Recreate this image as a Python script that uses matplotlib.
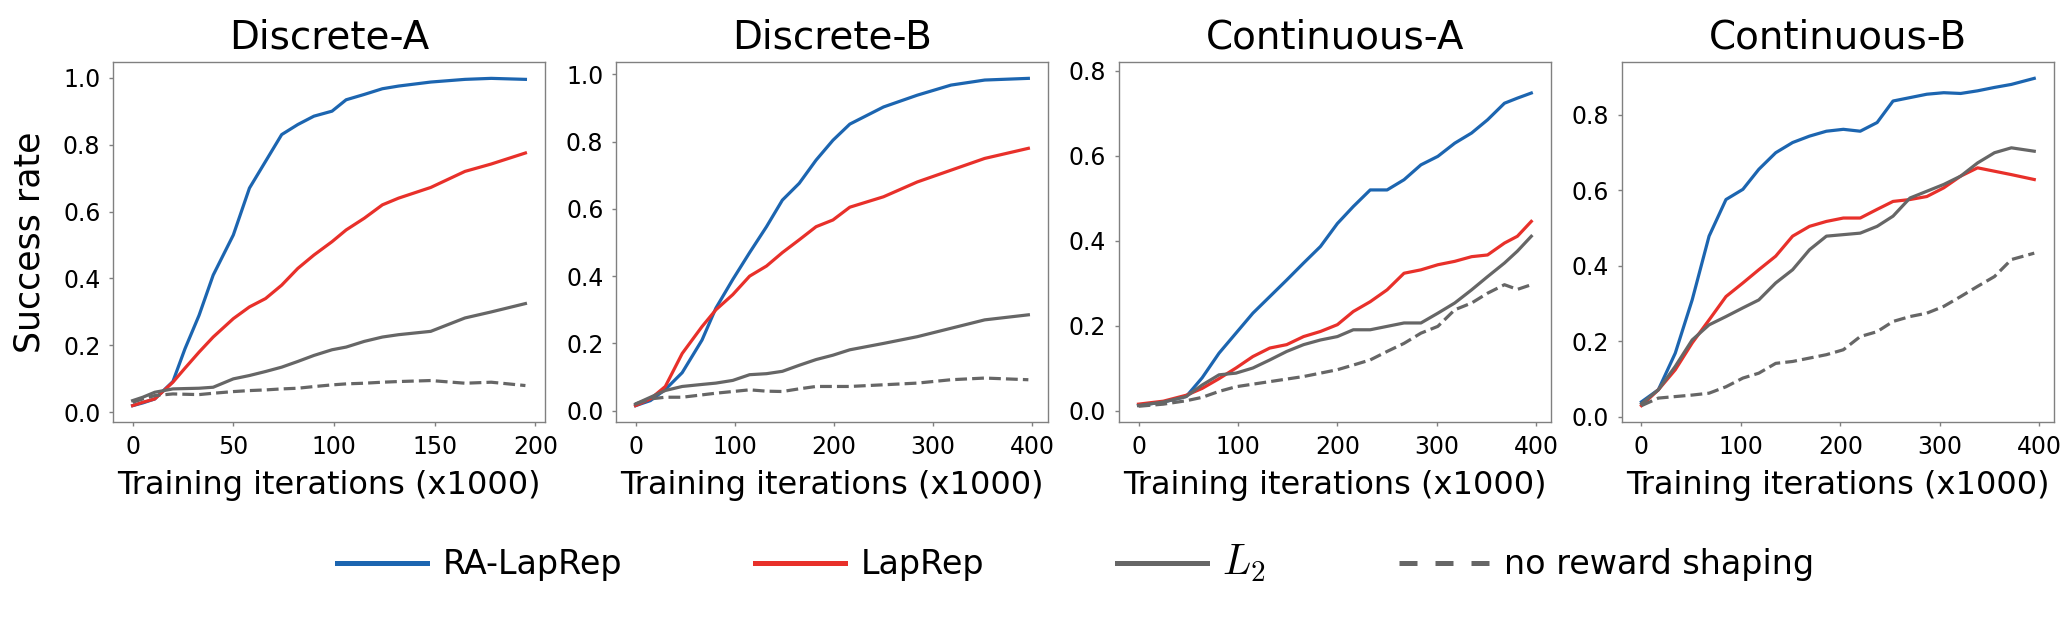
import matplotlib
matplotlib.use("Agg")
import matplotlib.pyplot as plt
from matplotlib.lines import Line2D

plt.rcParams['font.family'] = ['DejaVu Sans']
plt.rcParams['mathtext.fontset'] = 'cm'

# data (x in thousands of iterations)
titles = ['Discrete-A', 'Discrete-B', 'Continuous-A', 'Continuous-B']
labels = ['RA-LapRep', 'LapRep', '$L_2$', 'no reward shaping']

x_da = [0, 5, 11, 20, 26, 33, 40, 50, 58, 66, 74, 82, 90, 99, 106, 115, 124, 132, 148, 165, 178, 195]
ra_da = [0.02, 0.028, 0.04, 0.092, 0.19, 0.29, 0.41, 0.53, 0.67, 0.75, 0.83, 0.86, 0.885, 0.90, 0.934,
         0.95, 0.967, 0.975, 0.987, 0.995, 0.998, 0.995]
lap_da = [0.02, 0.03, 0.04, 0.09, 0.132, 0.18, 0.225, 0.28, 0.315, 0.34, 0.38, 0.43, 0.47, 0.51, 0.545,
          0.58, 0.62, 0.64, 0.672, 0.72, 0.742, 0.775]
l2_da = [0.035, 0.045, 0.06, 0.07, 0.071, 0.072, 0.075, 0.10, 0.11, 0.122, 0.135, 0.152, 0.17, 0.187,
         0.195, 0.212, 0.225, 0.232, 0.242, 0.282, 0.30, 0.325]
none_da = [0.03, 0.04, 0.05, 0.055, 0.054, 0.053, 0.057, 0.062, 0.065, 0.067, 0.07, 0.072, 0.077, 0.082,
           0.085, 0.087, 0.09, 0.092, 0.095, 0.087, 0.09, 0.08]

x_db = [0, 15, 30, 47, 67, 81, 98, 115, 132, 148, 165, 182, 199, 216, 250, 284, 318, 352, 396]
ra_db = [0.015, 0.03, 0.063, 0.113, 0.21, 0.305, 0.39, 0.47, 0.547, 0.626, 0.676, 0.745, 0.804, 0.852,
         0.903, 0.938, 0.968, 0.983, 0.988]
lap_db = [0.015, 0.035, 0.072, 0.17, 0.25, 0.30, 0.345, 0.40, 0.43, 0.47, 0.508, 0.547, 0.567, 0.605,
          0.636, 0.68, 0.715, 0.75, 0.78]
l2_db = [0.02, 0.04, 0.06, 0.072, 0.078, 0.082, 0.09, 0.107, 0.11, 0.117, 0.135, 0.152, 0.165, 0.181,
         0.20, 0.22, 0.245, 0.27, 0.285]
none_db = [0.02, 0.035, 0.04, 0.04, 0.047, 0.052, 0.057, 0.062, 0.058, 0.057, 0.065, 0.072, 0.072, 0.072,
           0.077, 0.082, 0.092, 0.097, 0.092]

x_ca = [0, 25, 48, 64, 81, 98, 115, 132, 149, 166, 183, 200, 216, 233, 250, 267, 284, 301, 318, 335,
        351, 368, 381, 395]
ra_ca = [0.012, 0.02, 0.033, 0.077, 0.135, 0.182, 0.229, 0.268, 0.307, 0.347, 0.386, 0.44, 0.48, 0.519,
         0.519, 0.543, 0.578, 0.598, 0.629, 0.653, 0.684, 0.723, 0.735, 0.747]
lap_ca = [0.015, 0.022, 0.036, 0.052, 0.075, 0.10, 0.127, 0.147, 0.155, 0.174, 0.186, 0.202, 0.233, 0.256,
          0.284, 0.323, 0.331, 0.343, 0.351, 0.362, 0.366, 0.394, 0.41, 0.445]
l2_ca = [0.012, 0.02, 0.033, 0.06, 0.084, 0.088, 0.10, 0.119, 0.139, 0.155, 0.166, 0.174, 0.19, 0.19,
         0.198, 0.206, 0.206, 0.229, 0.253, 0.284, 0.315, 0.347, 0.375, 0.41]
none_ca = [0.01, 0.015, 0.023, 0.031, 0.045, 0.056, 0.062, 0.068, 0.074, 0.08, 0.088, 0.096, 0.107, 0.119,
           0.139, 0.158, 0.182, 0.198, 0.237, 0.253, 0.276, 0.296, 0.285, 0.296]

x_cb = [0, 17, 34, 51, 68, 85, 102, 118, 135, 152, 169, 186, 203, 220, 237, 253, 270, 287, 304, 321,
        338, 355, 372, 395]
ra_cb = [0.04, 0.072, 0.169, 0.31, 0.479, 0.576, 0.603, 0.656, 0.70, 0.727, 0.744, 0.757, 0.762, 0.757,
         0.78, 0.837, 0.846, 0.855, 0.859, 0.857, 0.864, 0.873, 0.881, 0.897]
lap_cb = [0.03, 0.072, 0.125, 0.196, 0.257, 0.319, 0.355, 0.39, 0.426, 0.479, 0.505, 0.518, 0.527, 0.527,
          0.55, 0.571, 0.576, 0.584, 0.607, 0.638, 0.66, 0.651, 0.642, 0.629]
l2_cb = [0.035, 0.072, 0.134, 0.204, 0.244, 0.266, 0.289, 0.31, 0.355, 0.39, 0.443, 0.479, 0.483, 0.487,
         0.505, 0.532, 0.58, 0.598, 0.616, 0.638, 0.673, 0.70, 0.713, 0.704]
none_cb = [0.03, 0.05, 0.054, 0.058, 0.063, 0.08, 0.103, 0.116, 0.142, 0.147, 0.156, 0.165, 0.178, 0.213,
           0.226, 0.253, 0.266, 0.275, 0.293, 0.319, 0.346, 0.372, 0.417, 0.434]

panels = [
    (x_da, [ra_da, lap_da, l2_da, none_da]),
    (x_db, [ra_db, lap_db, l2_db, none_db]),
    (x_ca, [ra_ca, lap_ca, l2_ca, none_ca]),
    (x_cb, [ra_cb, lap_cb, l2_cb, none_cb]),
]

colors = ['#1c65b0', '#e8302a', '#666666', '#666666']
styles = ['-', '-', '-', '--']

fig, axes = plt.subplots(1, 4, figsize=(20.69, 6.25), dpi=100)
fig.subplots_adjust(left=0.0546, right=0.9927, top=0.9008, bottom=0.3248, wspace=0.164)

for i, ax in enumerate(axes):
    xs, series = panels[i]
    for ys, c, ls in zip(series, colors, styles):
        ax.plot(xs, ys, color=c, linestyle=ls, linewidth=2.3)
    ax.set_title(titles[i], fontsize=28, pad=10)
    ax.set_xlabel('Training iterations (x1000)', fontsize=23, labelpad=8)
    ax.tick_params(labelsize=17, length=3, width=1, color='#808080', pad=6)
    for sp in ax.spines.values():
        sp.set_color('#808080')
        sp.set_linewidth(1)
    if i == 0:
        ax.set_xticks([0, 50, 100, 150, 200])
        ax.set_ylabel('Success rate', fontsize=25, labelpad=12)
    else:
        ax.set_xticks([0, 100, 200, 300, 400])
    if i < 2:
        ax.set_yticks([0.0, 0.2, 0.4, 0.6, 0.8, 1.0])
    else:
        ax.set_yticks([0.0, 0.2, 0.4, 0.6, 0.8])

axes[2].set_ylim(-0.027, 0.82)

handles = [Line2D([], [], color=colors[0], lw=3.6),
           Line2D([], [], color=colors[1], lw=3.6),
           Line2D([], [], color=colors[2], lw=3.6),
           Line2D([], [], color=colors[3], lw=3.6, linestyle=(0, (3.6, 3.6)))]
leg = fig.legend(handles, labels, loc='center', bbox_to_anchor=(0.52, 0.1), ncol=4, frameon=False,
                 fontsize=24, handlelength=2.7, handletextpad=0.45, columnspacing=4.0)
leg.get_texts()[2].set_fontsize(30)

fig.savefig('out.png', dpi=100)
